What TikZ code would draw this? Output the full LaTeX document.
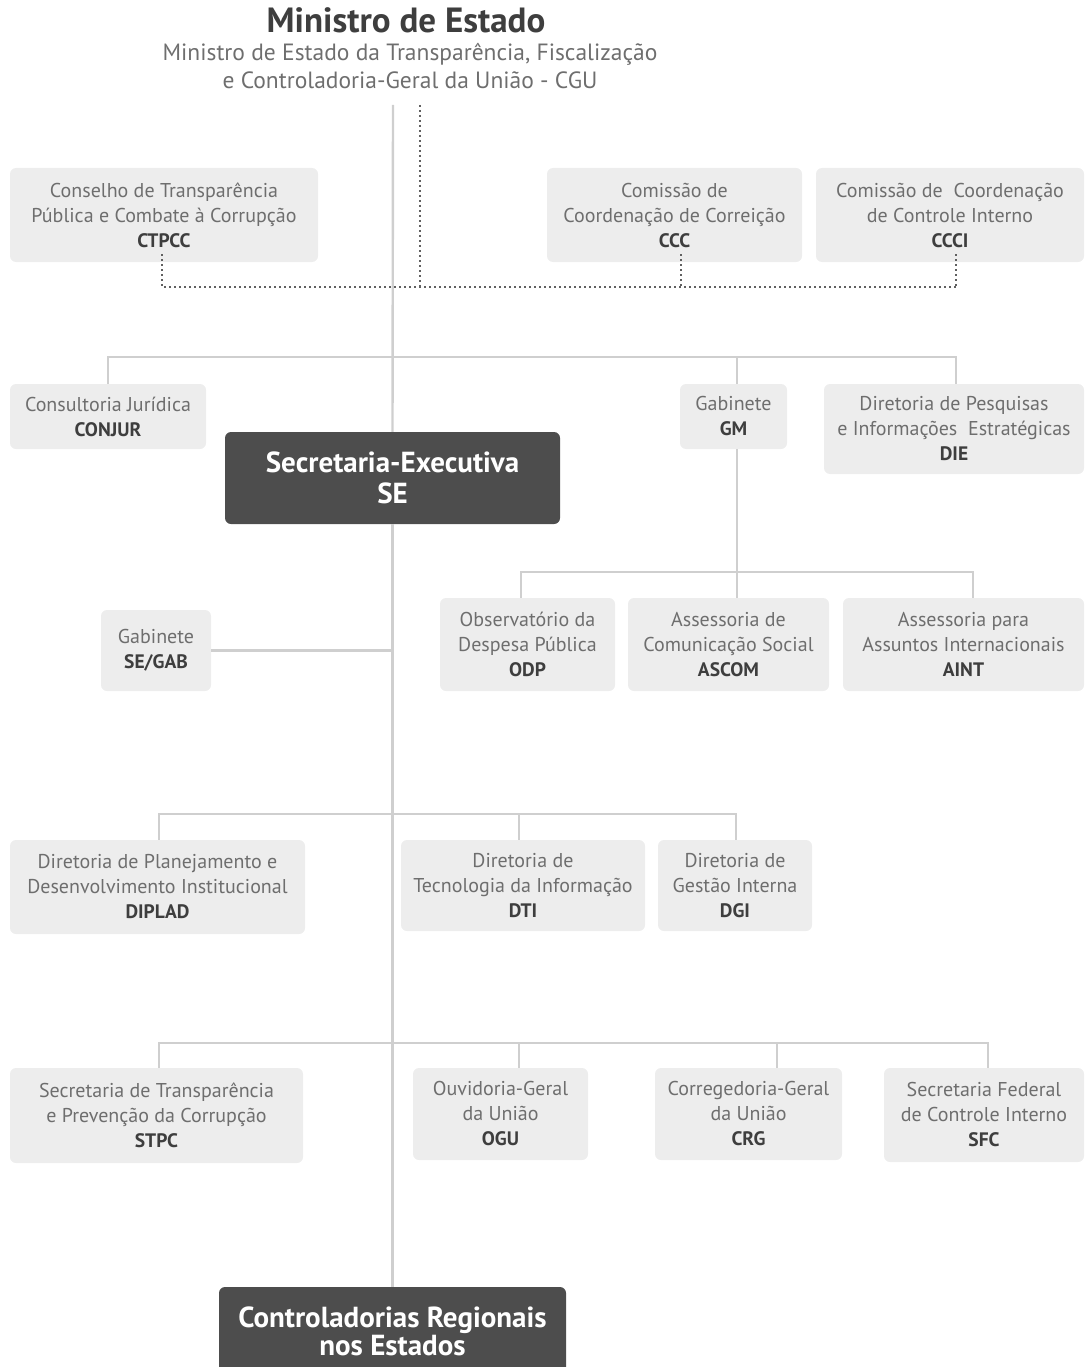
\documentclass[tikz,border=0pt]{standalone}
\usepackage{fontspec}
\setmainfont{PT Sans}
\usetikzlibrary{calc}
\definecolor{boxfill}{HTML}{EDEDED}
\definecolor{linegray}{HTML}{CFCFCF}
\definecolor{txtlight}{HTML}{6E6E6E}
\definecolor{txtbold}{HTML}{3E3E3E}
\definecolor{darkbox}{HTML}{4D4D4D}
\definecolor{dotgray}{HTML}{606060}
\newcommand{\acr}[1]{{\bfseries\color{txtbold}\fontsize{19.5}{25}\selectfont #1}}
\begin{document}
\begin{tikzpicture}[x=1pt,y=-1pt,
  lbox/.style={fill=boxfill, rounded corners=6pt, inner sep=0pt, align=center,
    text=txtlight, font=\fontsize{20}{25}\selectfont},
  dbox/.style={fill=darkbox, rounded corners=6pt, inner sep=0pt, align=center,
    text=white, font=\bfseries\fontsize{29}{31}\selectfont},
  conn/.style={draw=linegray, line width=2.4pt},
  dotl/.style={draw=dotgray, line width=1.7pt, dash pattern=on 1.7pt off 3.3pt},
  lab/.style={inner sep=0pt, align=center}]
\useasboundingbox (0,0) rectangle (1086,1367);

% title
\node[lab, text=txtbold, font=\bfseries\fontsize{35}{38}\selectfont] (title) at (406,20) {Ministro de Estado};
\node[lab, text=txtlight, font=\fontsize{23.5}{28}\selectfont] (sub) at (410,66) {Ministro de Estado da Transparência, Fiscalização\\e Controladoria-Geral da União - CGU};
\coordinate (top) at (393,105);
\coordinate (dtop) at (420,105);

% boxes
\node[lbox, minimum width=308, minimum height=94] (ctpcc) at (164,215) {Conselho de Transparência\\Pública e Combate à Corrupção\\\acr{CTPCC}};
\node[lbox, minimum width=255, minimum height=94] (ccc) at (674.5,215) {Comissão de\\Coordenação de Correição\\\acr{CCC}};
\node[lbox, minimum width=268, minimum height=94] (ccci) at (950,215) {Comissão de\ \ Coordenação\\de Controle Interno\\\acr{CCCI}};

\node[lbox, minimum width=196, minimum height=65] (conjur) at (108,416.5) {Consultoria Jurídica\\\acr{CONJUR}};
\node[lbox, minimum width=107, minimum height=65] (gm) at (733.5,416.5) {Gabinete\\\acr{GM}};
\node[lbox, minimum width=260, minimum height=90] (die) at (954,429) {Diretoria de Pesquisas\\e Informações\ \ Estratégicas\\\acr{DIE}};
\node[dbox, minimum width=335, minimum height=92] (se) at (392.5,478) {Secretaria-Executiva\\SE};

\node[lbox, minimum width=175, minimum height=93] (odp) at (527.5,644.5) {Observatório da\\Despesa Pública\\\acr{ODP}};
\node[lbox, minimum width=201, minimum height=93] (ascom) at (728.5,644.5) {Assessoria de\\Comunicação Social\\\acr{ASCOM}};
\node[lbox, minimum width=241, minimum height=93] (aint) at (963.5,644.5) {Assessoria para\\Assuntos Internacionais\\\acr{AINT}};
\node[lbox, minimum width=110, minimum height=81] (segab) at (156,650.5) {Gabinete\\\acr{SE/GAB}};

\node[lbox, minimum width=295, minimum height=94] (diplad) at (157.5,887) {Diretoria de Planejamento e\\Desenvolvimento Institucional\\\acr{DIPLAD}};
\node[lbox, minimum width=244, minimum height=91] (dti) at (523,885.5) {Diretoria de\\Tecnologia da Informação\\\acr{DTI}};
\node[lbox, minimum width=154, minimum height=91] (dgi) at (735,885.5) {Diretoria de\\Gestão Interna\\\acr{DGI}};

\node[lbox, minimum width=293, minimum height=95] (stpc) at (156.5,1115.5) {Secretaria de Transparência\\e Prevenção da Corrupção\\\acr{STPC}};
\node[lbox, minimum width=175, minimum height=92] (ogu) at (500.5,1114) {Ouvidoria-Geral\\da União\\\acr{OGU}};
\node[lbox, minimum width=187, minimum height=92] (crg) at (748.5,1114) {Corregedoria-Geral\\da União\\\acr{CRG}};
\node[lbox, minimum width=200, minimum height=94] (sfc) at (984,1115) {Secretaria Federal\\de Controle Interno\\\acr{SFC}};

\node[dbox, font=\bfseries\fontsize{29}{28}\selectfont, minimum width=347, minimum height=88] (cr) at (392.5,1331) {Controladorias Regionais\\nos Estados};

% dotted connectors
\coordinate (dbus) at (420,287);
\draw[dotl] (dtop) -- (dbus);
\draw[dotl] ([yshift=8]ctpcc.south -| 162,0) -- (162,287) -- (956,287);
\draw[dotl] ([xshift=6.5,yshift=8]ccc.south) -- ([xshift=6.5]ccc.south |- dbus);
\draw[dotl] ([xshift=6,yshift=8]ccci.south) -- ([xshift=6]ccci.south |- dbus);

% solid connectors
\draw[conn] (top) -- (se.north);
\draw[conn] (se.south) -- (cr.north);
\draw[conn] (conjur.north) -- ++(0,-27) -| ([xshift=2]die.north);
\draw[conn] ([xshift=3.5]gm.north) -- ([xshift=3.5]gm.north |- 0,357);
\draw[conn] ([xshift=3.5]gm.south) -- ([xshift=3.5]gm.south |- 0,572);
\draw[conn] ([xshift=-6.5]odp.north) -- ++(0,-26) -| ([xshift=9.5]aint.north);
\draw[conn] ([xshift=8.5]ascom.north) -- ([xshift=8.5]ascom.north |- 0,572);
\draw[conn] (segab.east) -- (segab.east -| se.south);
\draw[conn] ([xshift=1.5]diplad.north) -- ++(0,-26) -| ([xshift=1]dgi.north);
\draw[conn] ([xshift=-4]dti.north) -- ([xshift=-4]dti.north |- 0,814);
\draw[conn] ([xshift=2.5]stpc.north) -- ++(0,-25) -| ([xshift=4]sfc.north);
\draw[conn] ([xshift=18.5]ogu.north) -- ([xshift=18.5]ogu.north |- 0,1043);
\draw[conn] ([xshift=28.5]crg.north) -- ([xshift=28.5]crg.north |- 0,1043);
\end{tikzpicture}
\end{document}
